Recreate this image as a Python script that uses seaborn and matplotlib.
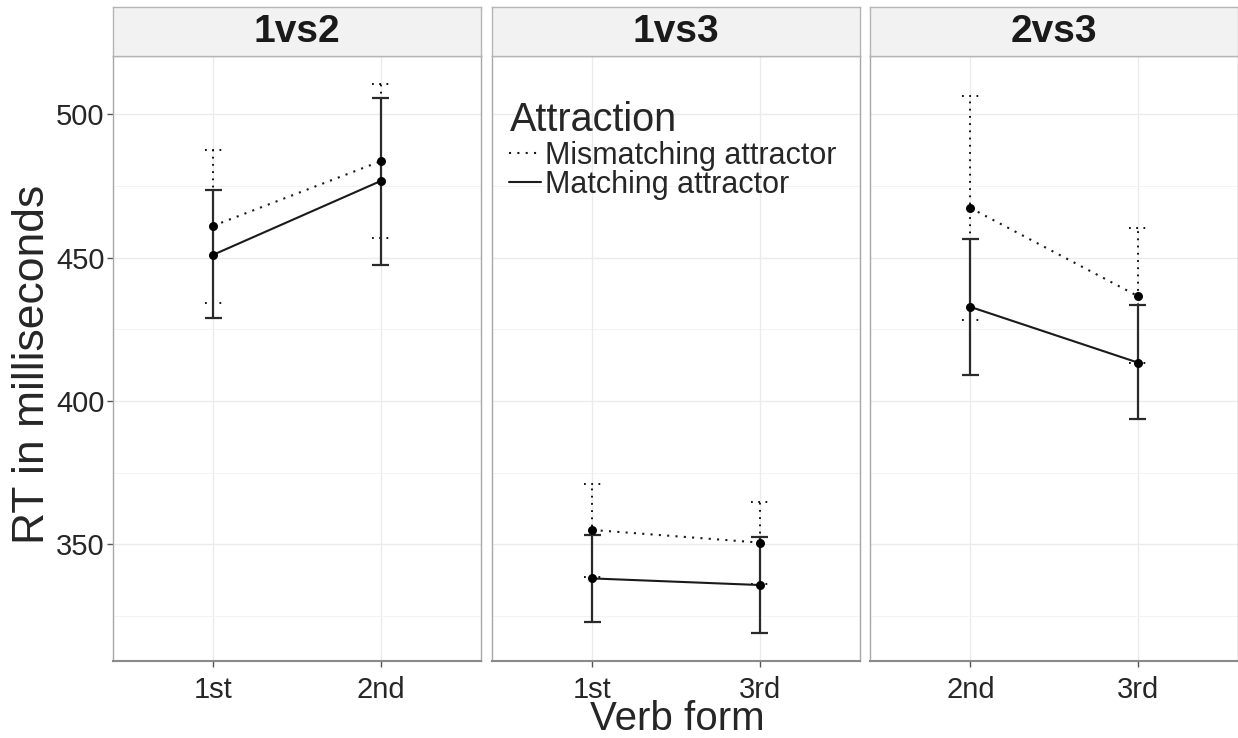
import numpy as np
import pandas as pd
import matplotlib
matplotlib.use("Agg")
import matplotlib.pyplot as plt
import seaborn as sns

# Facets and the verb forms shown in each one
comparisons = ["1vs2", "1vs3", "2vs3"]
verb_forms = [["1st", "2nd"], ["1st", "3rd"], ["2nd", "3rd"]]
conditions = ["Mismatching attractor", "Matching attractor"]

# Mean RT and interval bounds, in facet order (two verb forms per facet)
mismatch_mean = [461.1, 483.6, 355.0, 350.6, 467.3, 436.6]
mismatch_low = [434.3, 456.8, 338.7, 336.3, 428.4, 413.2]
mismatch_high = [487.6, 510.6, 371.2, 364.8, 506.4, 460.4]
match_mean = [451.0, 476.7, 338.1, 335.8, 432.8, 413.4]
match_low = [428.8, 447.5, 322.9, 318.9, 409.0, 393.6]
match_high = [473.5, 505.8, 353.3, 352.7, 456.6, 433.6]

# Build long table
rows = []
for cond, means, lows, highs in [
    (conditions[0], mismatch_mean, mismatch_low, mismatch_high),
    (conditions[1], match_mean, match_low, match_high),
]:
    k = 0
    for comp, forms in zip(comparisons, verb_forms):
        for pos, form in enumerate(forms):
            rows.append(dict(comparison=comp, verb=form, pos=pos, condition=cond,
                             mean=means[k], low=lows[k], high=highs[k]))
            k += 1
df = pd.DataFrame(rows)

sns.set_theme(style="white")
plt.rcParams["font.family"] = ["Liberation Sans", "DejaVu Sans"]

W, H = 1238, 738
fig = plt.figure(figsize=(W / 100, H / 100), dpi=100)

lefts = [113, 492, 870]
pw = 368
ptop, pbot = 56, 661
strip_top = 7

styles = {
    conditions[0]: dict(ls=(0, (1, 3)), color="black", lw=1.3),
    conditions[1]: dict(ls="-", color="#2a2a2a", lw=1.6),
}
cap = 0.05

for i, comp in enumerate(comparisons):
    ax = fig.add_axes([lefts[i] / W, (H - pbot) / H, pw / W, (pbot - ptop) / H])
    sub = df[df.comparison == comp]

    # error bars
    for cond in conditions:
        s = sub[sub.condition == cond]
        st = styles[cond]
        ax.vlines(s.pos, s.low, s.high, colors=st["color"], linestyles=[st["ls"]],
                  lw=st["lw"], zorder=3)
        ax.hlines(s.low, s.pos - cap, s.pos + cap, colors=st["color"],
                  linestyles=[st["ls"]], lw=st["lw"], zorder=3)
        ax.hlines(s.high, s.pos - cap, s.pos + cap, colors=st["color"],
                  linestyles=[st["ls"]], lw=st["lw"], zorder=3)

    sns.lineplot(data=sub, x="pos", y="mean", style="condition", style_order=conditions,
                 dashes={conditions[0]: (1, 3), conditions[1]: ""}, color="#1a1a1a",
                 lw=1.5, errorbar=None, ax=ax, legend=(i == 1), zorder=4)
    sns.scatterplot(data=sub, x="pos", y="mean", color="black", s=42, linewidth=0,
                    ax=ax, legend=False, zorder=5)

    ax.set_xlim(-0.6, 1.6)
    ax.set_ylim(309.3, 520.3)
    ax.set_xticks([0, 1])
    ax.set_xticklabels(verb_forms[i])
    ax.set_yticks([350, 400, 450, 500])
    ax.set_yticks([325, 375, 425, 475], minor=True)
    ax.set_xlabel("")
    ax.set_ylabel("")
    ax.grid(which="major", color="#EBEBEB", lw=1.0)
    ax.grid(which="minor", axis="y", color="#F3F3F3", lw=0.7)
    ax.set_axisbelow(True)
    ax.tick_params(axis="x", length=4, width=1, color="#555555", labelsize=21, pad=7,
                   bottom=True)
    if i == 0:
        ax.tick_params(axis="y", length=4, width=1, color="#555555", labelsize=21, pad=2,
                       left=True)
    else:
        ax.tick_params(axis="y", left=False, labelleft=False)
    ax.tick_params(which="minor", length=0)
    for sp in ax.spines.values():
        sp.set_color("#A8A8A8")
        sp.set_linewidth(1.0)
    ax.spines["bottom"].set_color("#8A8A8A")
    ax.spines["bottom"].set_linewidth(1.5)

    if i == 1:
        leg = ax.get_legend()
        handles = leg.legend_handles
        labels = [t.get_text() for t in leg.texts]
        ax.legend(handles, labels, loc="upper left",
                  bbox_to_anchor=(0.045, 0.86), frameon=False, fontsize=22,
                  handlelength=1.05, handletextpad=0.15, labelspacing=-0.02,
                  borderpad=0, borderaxespad=0)
        ax.text(0.05, 0.895, "Attraction", transform=ax.transAxes, ha="left",
                va="center", fontsize=28.5)

    # strip
    sax = fig.add_axes([lefts[i] / W, (H - ptop) / H, pw / W, (ptop - strip_top) / H])
    sax.set_facecolor("#F2F2F2")
    sax.set_xticks([])
    sax.set_yticks([])
    for sp in sax.spines.values():
        sp.set_color("#B5B5B5")
        sp.set_linewidth(1.0)
    sax.text(0.5, 0.5, comp, ha="center", va="center", fontsize=28,
             fontweight="bold", color="#1a1a1a", transform=sax.transAxes)

fig.text(33 / W, 1 - 364 / H, "RT in milliseconds", rotation=90, ha="center",
         va="center", fontsize=32)
fig.text(677 / W, 1 - 719 / H, "Verb form", ha="center", va="center", fontsize=29)

fig.savefig("out.png", dpi=100)
